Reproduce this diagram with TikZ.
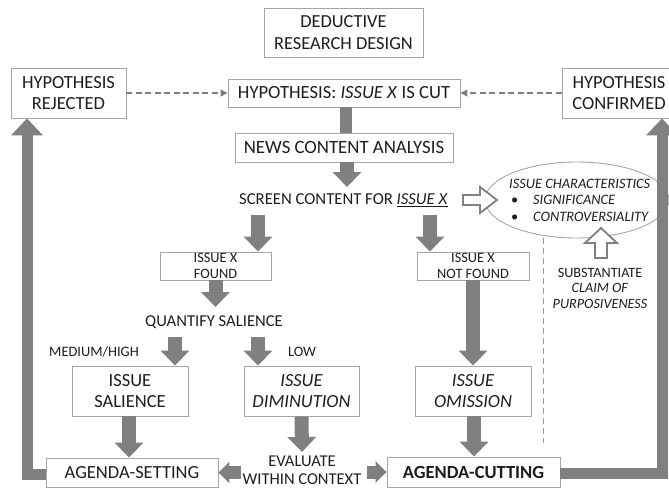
\documentclass[tikz,border=0pt]{standalone}
\usepackage{fontspec}
\setmainfont{Carlito}
\usetikzlibrary{arrows.meta,calc,shapes.geometric}
\definecolor{arr}{RGB}{128,128,128}
\definecolor{bord}{RGB}{165,165,165}
\definecolor{txt}{RGB}{30,30,30}
\newcommand{\fsz}[2]{\fontsize{#1}{#2}\selectfont}
\begin{document}
\begin{tikzpicture}[x=1pt,y=-1pt,
  box/.style={draw=bord, line width=0.9pt, fill=white, text=txt, align=center, inner sep=0pt},
  lbl/.style={text=txt, align=center, inner sep=0pt},
  blk/.style={draw=arr, line width=14pt, -{Triangle[width=28pt,length=15pt]}},
  sblk/.style={draw=arr, line width=13pt, -{Triangle[width=21pt,length=11pt]}},
  bar/.style={draw=arr, line width=12pt},
  dsh/.style={draw=arr, line width=1.5pt, dash pattern=on 6pt off 3.5pt, -{Triangle[width=7pt,length=7pt]}},
  vdsh/.style={draw=arr!80, line width=0.9pt, dash pattern=on 6pt off 4pt},
  big/.style={draw=arr, line width=11pt, line join=miter, -{Triangle[width=31pt,length=17pt]}},
  hollow/.style={draw=arr, line width=1.8pt, fill=white, line join=miter},
]
\useasboundingbox (0,0) rectangle (669,488);
\fill[white] (0,0) rectangle (669,488);

% boxes
\node[box, minimum width=159pt, minimum height=49pt, font=\fsz{18.4}{22}] (ded) at (343.5,32.5) {DEDUCTIVE\\RESEARCH DESIGN};
\node[box, minimum width=115pt, minimum height=50pt, font=\fsz{18.5}{21}] (rej) at (68.5,93) {HYPOTHESIS\\REJECTED};
\node[box, minimum width=232pt, minimum height=28pt, font=\fsz{18.6}{22}] (cut) at (344,93) {HYPOTHESIS: \textit{ISSUE X} IS CUT};
\node[box, minimum width=114pt, minimum height=50pt, font=\fsz{18.5}{21}] (conf) at (619,93) {HYPOTHESIS\\CONFIRMED};
\node[box, minimum width=218pt, minimum height=29pt, font=\fsz{18.8}{22}] (news) at (344,147.5) {NEWS CONTENT ANALYSIS};
\node[lbl, font=\fsz{16.7}{20}] (screen) at (343.5,200) {SCREEN CONTENT FOR \underline{\textit{ISSUE X}}};
\node[box, minimum width=111pt, minimum height=28pt, font=\fsz{14.3}{16.5}] (found) at (215.5,266) {ISSUE X\\FOUND};
\node[box, minimum width=112pt, minimum height=28pt, font=\fsz{14.3}{16.5}] (notfound) at (473,266) {ISSUE X\\NOT FOUND};
\node[lbl, font=\fsz{16.6}{20}] (quant) at (214,322) {QUANTIFY SALIENCE};
\node[lbl, font=\fsz{14.4}{17}] (medhigh) at (94,352) {MEDIUM/HIGH};
\node[lbl, font=\fsz{14.4}{17}] (low) at (302,352) {LOW};
\node[box, minimum width=116pt, minimum height=50pt, font=\fsz{18.5}{21}] (sal) at (130,391) {ISSUE\\SALIENCE};
\node[box, minimum width=115pt, minimum height=50pt, font=\fsz{18.5}{21}\itshape] (dim) at (301.5,391) {ISSUE\\DIMINUTION};
\node[box, minimum width=116pt, minimum height=50pt, font=\fsz{18.5}{21}\itshape] (omi) at (473,391) {ISSUE\\OMISSION};
\node[box, minimum width=172pt, minimum height=29pt, font=\fsz{18.5}{22}] (setting) at (132,472.5) {AGENDA-SETTING};
\node[box, minimum width=173pt, minimum height=30pt, font=\fsz{18.5}{22}\bfseries] (cutting) at (473.5,472) {AGENDA-CUTTING};
\node[lbl, font=\fsz{16.5}{18}] (eval) at (302,470.5) {EVALUATE\\WITHIN CONTEXT};

% ellipse
\node[ellipse, draw=bord, line width=0.9pt, fill=white, minimum width=184pt, minimum height=76pt, inner sep=0pt] (ell) at (577,200) {};
\node[lbl, align=left, anchor=west, font=\fsz{14.4}{16.5}\itshape] (chars) at (509,200)
  {ISSUE CHARACTERISTICS\\\makebox[24pt][l]{\hspace{2pt}\upshape\textbullet}SIGNIFICANCE\\\makebox[24pt][l]{\hspace{2pt}\upshape\textbullet}CONTROVERSIALITY};
\node[lbl, font=\fsz{14.2}{15.5}] (subst) at (600,288) {SUBSTANTIATE\\\textit{CLAIM OF}\\\textit{PURPOSIVENESS}};

% dashed connectors
\draw[dsh] (rej.east) -- (cut.west);
\draw[dsh] (conf.west) -- (cut.east);
\coordinate (dend) at (543,443);
\draw[vdsh] ([xshift=-34pt]ell.south) -- (dend);

% block arrows
\draw[bar] ([xshift=2pt]cut.south) -- ([xshift=2pt]news.north);
\draw[blk] ([xshift=3pt]news.south) -- ([xshift=3.5pt,yshift=13pt]screen.center);
\draw[blk] ([xshift=-85.5pt,yshift=-15pt]screen.center) -- ([xshift=42.5pt]found.north);
\draw[blk] ([xshift=86.5pt,yshift=-15pt]screen.center) -- ([xshift=-43pt]notfound.north);
\draw[blk] (found.south) -- ([xshift=1.5pt,yshift=15pt]quant.center);
\draw[blk] ([xshift=-39pt,yshift=-15pt]quant.center) -- ([xshift=45pt]sal.north);
\draw[blk] ([xshift=44pt,yshift=-15pt]quant.center) -- ([xshift=-43.5pt]dim.north);
\draw[blk] (notfound.south) -- (omi.north);
\draw[blk] ([xshift=-1pt]sal.south) -- ([xshift=-3pt]setting.north);
\draw[blk] (dim.south) -- ([yshift=18.5pt]eval.center);
\draw[blk] ([xshift=1pt]omi.south) -- ([xshift=0.5pt]cutting.north);
\draw[sblk] ([xshift=-61pt,yshift=-2pt]eval.center) -- (setting.east);
\draw[sblk] ([xshift=65pt,yshift=-1.5pt]eval.center) -- (cutting.west);

% big feedback arrows
\draw[big] ([yshift=-2pt]setting.west) -| ([xshift=-41.5pt]rej.south);
\draw[big] ([yshift=-1pt]cutting.east) -| ([xshift=43pt]conf.south);

% hollow arrows
\draw[hollow] ([xshift=119.5pt,yshift=5pt]screen.center) -- ++(17,0) -- ++(0,-8) -- ++(17,13) -- ++(-17,13) -- ++(0,-8) -- ++(-17,0) -- cycle;
\draw[hollow] ([xshift=-5pt,yshift=30pt]subst.center) -- ++(0,-15) -- ++(-10,0) -- ++(16,-15) -- ++(16,15) -- ++(-10,0) -- ++(0,15) -- cycle;
\end{tikzpicture}
\end{document}
